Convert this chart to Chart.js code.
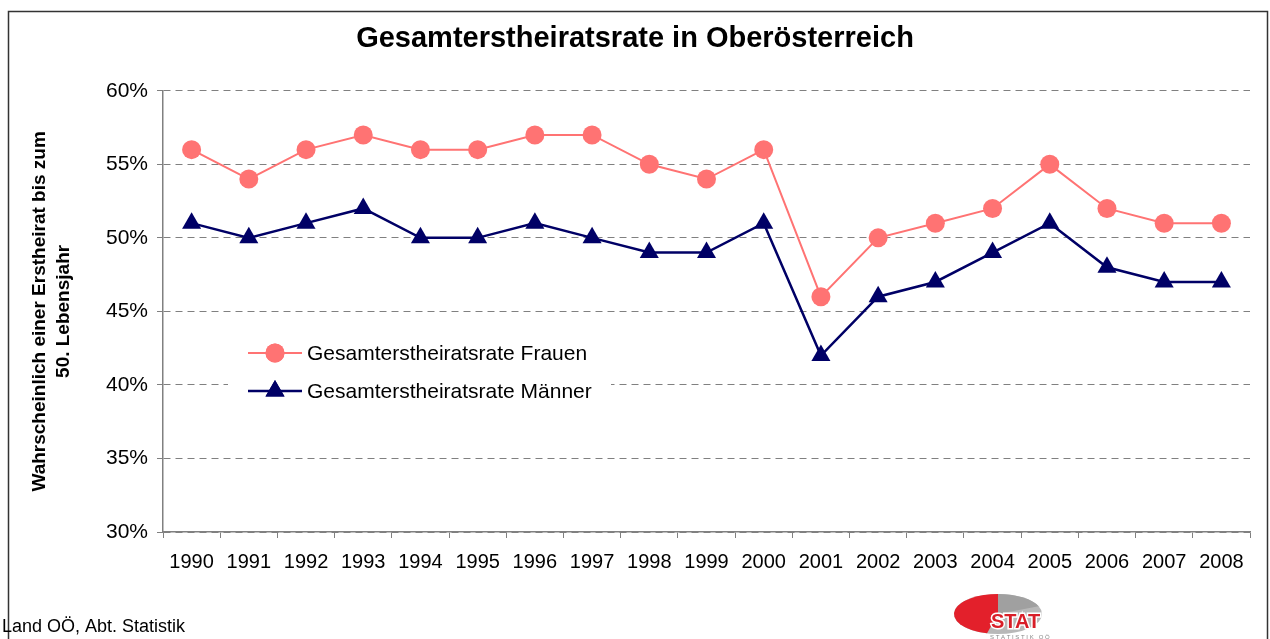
<!DOCTYPE html>
<html>
<head>
<meta charset="utf-8">
<script src="https://cdn.jsdelivr.net/npm/chart.js@4/dist/chart.umd.min.js"></script>
<style>
  html, body { margin: 0; padding: 0; background: #fff; }
  #wrap { width: 1270px; height: 639px; position: relative; }
</style>
</head>
<body>
<div id="wrap"><canvas id="line-chart" width="1270" height="639"></canvas></div>
<script>
const years = ['1990','1991','1992','1993','1994','1995','1996','1997','1998','1999','2000','2001','2002','2003','2004','2005','2006','2007','2008'];
const frauen = [56, 54, 56, 57, 56, 56, 57, 57, 55, 54, 56, 46, 50, 51, 52, 55, 52, 51, 51];
const maenner = [51, 50, 51, 52, 50, 50, 51, 50, 49, 49, 51, 42, 46, 47, 49, 51, 48, 47, 47];
const yTicks = [30, 35, 40, 45, 50, 55, 60];

const FONT = 'Arial, "Liberation Sans", sans-serif';

// frame, footer, logo and the legend box inside the plot
const extras = {
  id: 'extras',
  beforeDraw(chart) {
    const ctx = chart.ctx;
    ctx.save();
    ctx.fillStyle = '#fff';
    ctx.fillRect(0, 0, chart.width, chart.height);
    ctx.strokeStyle = '#333';
    ctx.lineWidth = 1.5;
    ctx.strokeRect(8.5, 11.5, 1259, 700);
    ctx.restore();
  },
  afterDatasetsDraw(chart) {
    const ctx = chart.ctx;
    ctx.save();
    // legend
    ctx.fillStyle = '#fff';
    ctx.fillRect(228, 330, 383, 80);
    const rows = [353, 391];
    chart.data.datasets.forEach((ds, i) => {
      const y = rows[i];
      ctx.strokeStyle = ds.borderColor;
      ctx.lineWidth = ds.borderWidth;
      ctx.beginPath();
      ctx.moveTo(248, y);
      ctx.lineTo(302, y);
      ctx.stroke();
      ctx.fillStyle = ds.pointBackgroundColor;
      Chart.helpers.drawPoint(ctx, {pointStyle: ds.pointStyle, radius: ds.pointRadius, borderWidth: 0}, 275, y);
      ctx.fill();
      ctx.fillStyle = '#000';
      ctx.font = '21px ' + FONT;
      ctx.textBaseline = 'middle';
      ctx.fillText(ds.label, 307, y + 1);
    });
    ctx.restore();
  },
  afterDraw(chart) {
    const ctx = chart.ctx;
    ctx.save();
    ctx.fillStyle = '#000';
    ctx.font = '18px ' + FONT;
    ctx.textBaseline = 'alphabetic';
    ctx.fillText('Land OÖ, Abt. Statistik', 2, 632);

    // STAT logo
    const cx = 998, cy = 614;
    ctx.fillStyle = '#b8b8b8';
    ctx.beginPath();
    ctx.ellipse(cx, cy, 44, 20, 0, 0, Math.PI * 2);
    ctx.fill();
    ctx.fillStyle = '#a0a0a0';
    ctx.beginPath();
    ctx.moveTo(cx, cy);
    ctx.ellipse(cx, cy, 44, 20, 0, -Math.PI / 2, -Math.PI / 8);
    ctx.closePath();
    ctx.fill();
    ctx.fillStyle = '#e3202b';
    ctx.beginPath();
    ctx.moveTo(cx, cy);
    ctx.ellipse(cx, cy, 44, 20, 0, Math.PI * 0.58, Math.PI * 1.5);
    ctx.closePath();
    ctx.fill();
    ctx.font = 'bold 20px ' + FONT;
    ctx.lineWidth = 3;
    ctx.strokeStyle = '#fff';
    ctx.strokeText('STAT', 991, 628);
    ctx.fillStyle = '#d81e28';
    ctx.fillText('STAT', 991, 628);
    ctx.font = '6px ' + FONT;
    ctx.fillStyle = '#888';
    ctx.fillText('S T A T I S T I K   O Ö', 990, 639);
    ctx.restore();
  }
};

new Chart(document.getElementById('line-chart'), {
  type: 'line',
  data: {
    labels: years,
    datasets: [
      {
        label: 'Gesamterstheiratsrate Frauen',
        data: frauen,
        borderColor: '#ff7373',
        backgroundColor: '#ff7373',
        pointBackgroundColor: '#ff7373',
        pointBorderWidth: 0,
        borderWidth: 2,
        pointStyle: 'circle',
        pointRadius: 9.5,
        tension: 0
      },
      {
        label: 'Gesamterstheiratsrate Männer',
        data: maenner,
        borderColor: '#000066',
        backgroundColor: '#000066',
        pointBackgroundColor: '#000066',
        pointBorderWidth: 0,
        borderWidth: 2.5,
        pointStyle: 'triangle',
        pointRadius: 11,
        tension: 0
      }
    ]
  },
  options: {
    responsive: false,
    animation: false,
    layout: {
      padding: { top: 0, right: 0, bottom: 0, left: 0 }
    },
    scales: {
      x: {
        type: 'category',
        offset: true,
        afterFit(scale) { scale.height = 107; },
        grid: {
          offset: true,
          drawOnChartArea: false,
          drawTicks: true,
          tickLength: 6,
          tickColor: '#808080',
          tickWidth: 1
        },
        border: { display: true, color: '#808080', width: 1.5 },
        ticks: {
          color: '#000',
          font: { family: FONT, size: 20 },
          padding: 12,
          maxRotation: 0,
          autoSkip: false
        }
      },
      y: {
        min: 30,
        max: 60,
        afterFit(scale) { scale.width = 163; },
        afterBuildTicks(scale) { scale.ticks = yTicks.map(v => ({ value: v })); },
        grid: {
          color: '#808080',
          lineWidth: 1,
          tickLength: 6,
          tickColor: '#808080',
          tickBorderDash: []
        },
        border: { display: true, color: '#808080', width: 1.5, dash: [7, 5] },
        ticks: {
          color: '#000',
          font: { family: FONT, size: 21 },
          padding: 9,
          callback: v => v + '%'
        },
        title: {
          display: true,
          text: ['Wahrscheinlich einer Erstheirat bis zum', '50. Lebensjahr'],
          color: '#000',
          font: { family: FONT, size: 19, weight: 'bold', lineHeight: 1.3 },
          padding: { top: 27, bottom: 0 }
        }
      },
      // empty spacer on the right so the plot ends where the reference does
      yRight: {
        position: 'right',
        display: true,
        afterFit(scale) { scale.width = 20; },
        grid: { display: false },
        border: { display: false },
        ticks: { display: false }
      }
    },
    plugins: {
      legend: { display: false },
      tooltip: { enabled: false },
      title: {
        display: true,
        text: 'Gesamterstheiratsrate in Oberösterreich',
        color: '#000',
        font: { family: FONT, size: 29, weight: 'bold', lineHeight: 1.2 },
        padding: { top: 22, bottom: 34 }
      }
    }
  },
  plugins: [extras]
});
</script>
</body>
</html>
